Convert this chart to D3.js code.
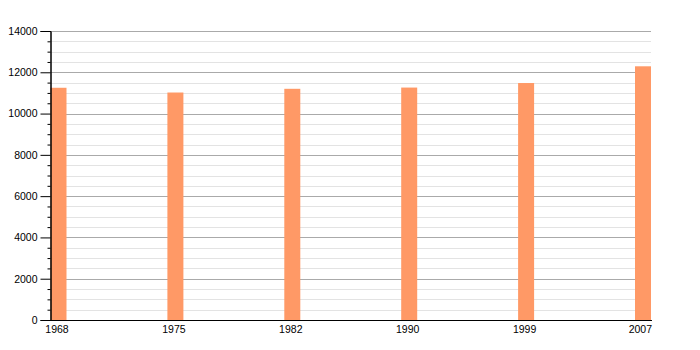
<!DOCTYPE html>
<html>
<head>
<meta charset="utf-8">
<script src="https://cdn.jsdelivr.net/npm/d3@7"></script>
<style>
  body { margin: 0; background: #fff; }
  text { font-family: "Liberation Sans", Arial, sans-serif; font-size: 10.5px; fill: #000; }
</style>
</head>
<body>
<div id="chart"></div>
<script>
// data
let years = ['1968', '1975', '1982', '1990', '1999', '2007']
let population = [11250, 11020, 11200, 11260, 11480, 12290]
let yTicks = [0, 2000, 4000, 6000, 8000, 10000, 12000, 14000]

let margin = { top: 31, left: 50.5, right: 49, bottom: 30 }
let width = 700 - margin.left - margin.right
let height = 350 - margin.top - margin.bottom
let barWidth = 16

let svg = d3.select('#chart')
  .append('svg')
  .attr('width', 700)
  .attr('height', 350)
  .append('g')
  .attr('transform', `translate(${margin.left},${margin.top})`)

let xPositionScale = d3.scalePoint()
  .domain(years)
  .range([barWidth / 2, width - barWidth / 2])

let yPositionScale = d3.scaleLinear()
  .domain([0, 14000])
  .range([height, 0])

// minor gridlines every 500
let minor = d3.range(0, 14001, 500).filter(d => d % 2000 !== 0)
svg.selectAll('.minor-grid')
  .data(minor)
  .enter()
  .append('line')
  .attr('class', 'minor-grid')
  .attr('x1', 0)
  .attr('x2', width)
  .attr('y1', d => Math.round(yPositionScale(d)) + 0.5)
  .attr('y2', d => Math.round(yPositionScale(d)) + 0.5)
  .attr('stroke', '#e3e3e3')

svg.selectAll('.major-grid')
  .data(yTicks.filter(d => d > 0))
  .enter()
  .append('line')
  .attr('class', 'major-grid')
  .attr('x1', 0)
  .attr('x2', width)
  .attr('y1', d => Math.round(yPositionScale(d)) + 0.5)
  .attr('y2', d => Math.round(yPositionScale(d)) + 0.5)
  .attr('stroke', '#aaaaaa')

// bars
svg.selectAll('.bar')
  .data(years)
  .enter()
  .append('rect')
  .attr('class', 'bar')
  .attr('x', d => xPositionScale(d) - barWidth / 2)
  .attr('y', (d, i) => yPositionScale(population[i]))
  .attr('width', barWidth)
  .attr('height', (d, i) => height - yPositionScale(population[i]))
  .attr('fill', '#ff9966')

// y axis with minor ticks
let yMinor = d3.axisLeft(yPositionScale)
  .tickValues(minor)
  .tickSize(3)
  .tickFormat('')
svg.append('g')
  .attr('class', 'axis y-minor')
  .call(yMinor)

let yAxis = d3.axisLeft(yPositionScale)
  .tickValues(yTicks)
  .tickSize(10)
  .tickPadding(3)
  .tickFormat(d3.format('d'))
svg.append('g')
  .attr('class', 'axis y-axis')
  .call(yAxis)

svg.selectAll('.axis path, .axis line').attr('stroke', '#000')
svg.selectAll('.axis text').attr('font-size', null).attr('font-family', null)

// x axis
svg.append('line')
  .attr('x1', 0)
  .attr('x2', width + 1)
  .attr('y1', height + 0.5)
  .attr('y2', height + 0.5)
  .attr('stroke', '#000')

// labels sit a little left of the bar centre, last one ends at the plot edge
svg.selectAll('.x-label')
  .data(years)
  .enter()
  .append('text')
  .attr('class', 'x-label')
  .attr('x', (d, i) => i === years.length - 1 ? width + 1 : xPositionScale(d) - 1.5)
  .attr('y', height + 12.5)
  .attr('text-anchor', (d, i) => i === years.length - 1 ? 'end' : 'middle')
  .text(d => d)
</script>
</body>
</html>
